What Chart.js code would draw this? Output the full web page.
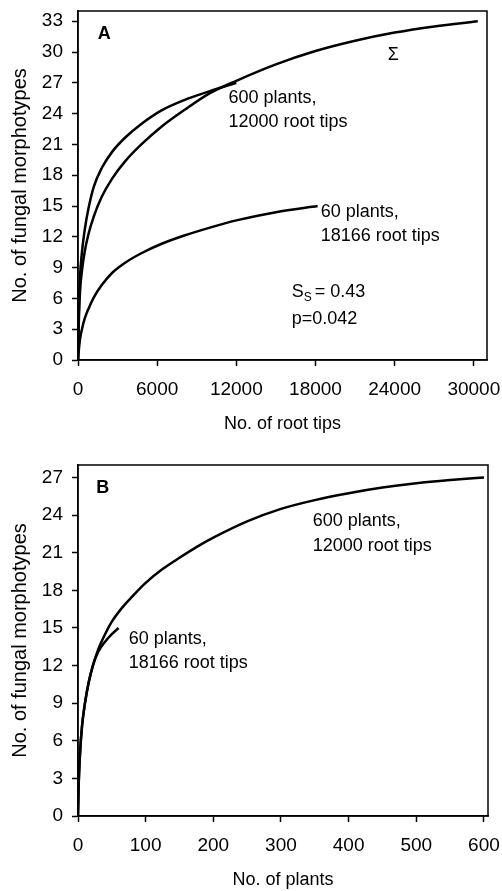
<!DOCTYPE html>
<html>
<head>
<meta charset="utf-8">
<script src="https://cdn.jsdelivr.net/npm/chart.js@4.4.1/dist/chart.umd.min.js"></script>
<style>
  body { margin: 0; background: #fff; }
  .panel { position: relative; width: 502px; }
</style>
</head>
<body>
<div class="panel" style="height:440px"><canvas id="chartA"></canvas></div>
<div class="panel" style="height:451px"><canvas id="chartB"></canvas></div>
<script>
// Panel A: morphotypes vs. number of root tips
const sigmaTips = [0, 60, 150, 300, 500, 800, 1200, 1800, 2600, 3600, 4800, 6300, 8000, 10000, 12000, 15000, 18000, 21000, 24000, 27000, 30300];
const sigmaMorpho = [0, 3.6, 6.6, 8.7, 10.5, 12.3, 14.0, 15.9, 17.7, 19.4, 21.0, 22.7, 24.3, 26.0, 27.2, 28.8, 30.1, 31.1, 31.9, 32.5, 33.0];
const tips600 = [0, 50, 150, 300, 500, 800, 1200, 1800, 2600, 3600, 4800, 6300, 8000, 10000, 12000];
const morpho600A = [0, 4, 8, 10.5, 12.6, 14.8, 16.9, 18.7, 20.3, 21.7, 23.0, 24.3, 25.3, 26.2, 27.0];
const tips60 = [0, 50, 150, 300, 500, 800, 1200, 1800, 2600, 3600, 4800, 6300, 8000, 10000, 12000, 15000, 18166];
const morpho60A = [0, 0.8, 2.0, 3.0, 4.0, 5.0, 6.1, 7.3, 8.5, 9.5, 10.4, 11.3, 12.1, 12.9, 13.6, 14.4, 15.0];

// Panel B: morphotypes vs. number of plants
const plants600 = [0, 1, 3, 6, 10, 16, 22, 30, 40, 50, 65, 80, 100, 125, 150, 175, 200, 250, 300, 350, 400, 450, 500, 550, 600];
const morpho600B = [0, 2.5, 5.0, 7.2, 8.9, 10.7, 12.0, 13.3, 14.5, 15.5, 16.6, 17.5, 18.6, 19.7, 20.6, 21.45, 22.2, 23.5, 24.5, 25.2, 25.75, 26.2, 26.55, 26.8, 27.0];
const plants60 = [0, 1, 3, 6, 10, 16, 22, 30, 40, 50, 60];
const morpho60B = [0, 2.5, 5.0, 7.2, 8.9, 10.7, 12.0, 13.1, 13.9, 14.5, 15.0];

// tick labels
const xTicksA = [0, 6000, 12000, 18000, 24000, 30000];
const yTicksA = [0, 3, 6, 9, 12, 15, 18, 21, 24, 27, 30, 33];
const xTicksB = [0, 100, 200, 300, 400, 500, 600];
const yTicksB = [0, 3, 6, 9, 12, 15, 18, 21, 24, 27];

const FONT = "'Liberation Sans', Arial, sans-serif";

function toPoints(xs, ys) {
    return xs.map((x, i) => ({ x: x, y: ys[i] }));
}

function curve(xs, ys) {
    return {
        data: toPoints(xs, ys),
        showLine: true,
        borderColor: '#000',
        borderWidth: 2.5,
        pointRadius: 0,
        cubicInterpolationMode: 'monotone',
        fill: false
    };
}

// draws the box around the plot and the text notes (placed in data units)
const framePlugin = {
    id: 'frame',
    afterDraw(chart, args, opts) {
        const { ctx, chartArea: a, scales } = chart;
        ctx.save();
        ctx.strokeStyle = '#000';
        ctx.lineWidth = 1.5;
        ctx.strokeRect(a.left, a.top, a.right - a.left, a.bottom - a.top);
        ctx.fillStyle = '#000';
        ctx.textBaseline = 'middle';
        (opts.notes || []).forEach(n => {
            let px = scales.x.getPixelForValue(n.x);
            const py = scales.y.getPixelForValue(n.y);
            ctx.textAlign = n.align || 'left';
            ctx.font = (n.bold ? 'bold ' : '') + (n.size || 18) + 'px ' + FONT;
            if (n.sub) {
                // "S" with subscript "S"
                ctx.fillText(n.text, px, py);
                px += ctx.measureText(n.text).width;
                ctx.font = '12px ' + FONT;
                ctx.fillText(n.sub, px, py + 5);
                px += ctx.measureText(n.sub).width + 3;
                ctx.font = '18px ' + FONT;
                ctx.fillText(n.rest, px, py);
            } else {
                ctx.fillText(n.text, px, py);
            }
        });
        ctx.restore();
    }
};

function axis(title, min, max, tickList, horizontal, fit, titlePad) {
    return {
        type: 'linear',
        min: min,
        max: max,
        afterBuildTicks: s => { s.ticks = tickList.map(v => ({ value: v })); },
        afterFit: s => {
            if (horizontal) s.height = fit; else s.width = fit;
            // keep edge labels from shrinking the plot area
            s.paddingLeft = 0; s.paddingRight = 0;
            s.paddingTop = 0; s.paddingBottom = 0;
        },
        grid: {
            drawOnChartArea: false,
            drawTicks: true,
            tickLength: 6,
            tickWidth: 1.5,
            tickColor: '#000'
        },
        border: { display: true, color: '#000', width: 1.5 },
        ticks: {
            autoSkip: false,
            maxRotation: 0,
            color: '#000',
            padding: horizontal ? 12 : 9,
            font: { family: FONT, size: 19 },
            callback: v => String(v)
        },
        title: {
            display: true,
            text: title,
            color: '#000',
            font: { family: FONT, size: horizontal ? 18 : 20 },
            padding: titlePad
        }
    };
}

function baseOptions(pad, xScale, yScale, notes) {
    return {
        responsive: true,
        maintainAspectRatio: false,
        animation: false,
        layout: { padding: pad },
        scales: { x: xScale, y: yScale },
        plugins: {
            legend: { display: false },
            tooltip: { enabled: false },
            frame: { notes: notes }
        }
    };
}

new Chart(document.getElementById('chartA').getContext('2d'), {
    type: 'scatter',
    data: {
        datasets: [
            curve(sigmaTips, sigmaMorpho),
            curve(tips600, morpho600A),
            curve(tips60, morpho60A)
        ]
    },
    options: baseOptions(
        { top: 11, right: 15, left: 0, bottom: 0 },
        axis('No. of root tips', 0, 31000, xTicksA, true, 80, { top: 0, bottom: 5 }),
        axis('No. of fungal morphotypes', 0, 34, yTicksA, false, 78, { top: 8, bottom: 0 }),
        [
            { text: 'A', x: 1500, y: 31.8, bold: true },
            { text: 'Σ', x: 23900, y: 29.7, align: 'center' },
            { text: '600 plants,', x: 11400, y: 25.5 },
            { text: '12000 root tips', x: 11400, y: 23.2 },
            { text: '60 plants,', x: 18400, y: 14.4 },
            { text: '18166 root tips', x: 18400, y: 12.1 },
            { text: 'S', sub: 'S', rest: '= 0.43', x: 16200, y: 6.6 },
            { text: 'p=0.042', x: 16200, y: 4.0 }
        ]
    ),
    plugins: [framePlugin]
});

new Chart(document.getElementById('chartB').getContext('2d'), {
    type: 'scatter',
    data: {
        datasets: [
            curve(plants600, morpho600B),
            curve(plants60, morpho60B)
        ]
    },
    options: baseOptions(
        { top: 25, right: 14, left: 0, bottom: 0 },
        axis('No. of plants', 0, 606, xTicksB, true, 75, { top: 0, bottom: 0 }),
        axis('No. of fungal morphotypes', 0, 28, yTicksB, false, 78, { top: 8, bottom: 0 }),
        [
            { text: 'B', x: 27, y: 26.2, bold: true },
            { text: '600 plants,', x: 347, y: 23.5 },
            { text: '12000 root tips', x: 347, y: 21.5 },
            { text: '60 plants,', x: 75, y: 14.1 },
            { text: '18166 root tips', x: 75, y: 12.2 }
        ]
    ),
    plugins: [framePlugin]
});
</script>
</body>
</html>
